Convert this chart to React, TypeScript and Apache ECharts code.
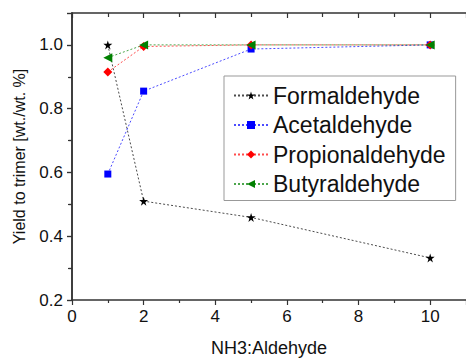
import React, { useEffect, useRef } from "react";
import * as echarts from "echarts";

const xValues = [1, 2, 5, 10];
const formaldehyde = [1.0, 0.51, 0.459, 0.332];
const acetaldehyde = [0.595, 0.855, 0.987, 1.0];
const propionaldehyde = [0.915, 0.995, 1.0, 1.0];
const butyraldehyde = [0.96, 1.0, 1.0, 1.0];
const seriesNames = ["Formaldehyde", "Acetaldehyde", "Propionaldehyde", "Butyraldehyde"];

const FONT = "Liberation Sans";
const STAR = "path://M50,0 L61,35 L98,35 L68,57 L79,91 L50,70 L21,91 L32,57 L2,35 L39,35 Z";

function pairs(ys: number[]) {
  return xValues.map((x, i) => [x, ys[i]]);
}

export default function App() {
  const ref = useRef<HTMLDivElement>(null);
  useEffect(() => {
    if (!ref.current) return;
    const chart = echarts.init(ref.current, undefined, { renderer: "svg" });
    const axisColor = "#333";
    const mk = (name: string, data: number[], color: string, symbol: string, size: number, rotate = 0) => ({
      name,
      type: "line",
      data: pairs(data),
      symbol,
      symbolSize: size,
      symbolRotate: rotate,
      showAllSymbol: true,
      itemStyle: { color },
      lineStyle: { color, width: 1, type: [2, 2], opacity: 0.7 },
      z: 3,
    });
    chart.setOption({
      animation: false,
      backgroundColor: "#fff",
      textStyle: { fontFamily: FONT },
      grid: { left: 72, top: 13, right: -2, bottom: 57 },
      legend: {
        orient: "vertical",
        left: 224,
        top: 76,
        padding: [8, 10, 5, 9],
        itemGap: 6.5,
        itemWidth: 34,
        itemHeight: 10,
        borderColor: "#999",
        borderWidth: 1,
        backgroundColor: "#fff",
        data: seriesNames,
        textStyle: { fontFamily: FONT, fontSize: 23, color: "#111", lineHeight: 23 },
      },
      xAxis: [
        {
          type: "value",
          min: 0,
          max: 11,
          interval: 2,
          position: "bottom",
          name: "NH3:Aldehyde",
          nameLocation: "middle",
          nameGap: 39,
          nameTextStyle: { fontFamily: FONT, fontSize: 18, color: "#111" },
          axisLine: { lineStyle: { color: axisColor, width: 1.5 } },
          axisTick: { inside: false, length: 5, lineStyle: { color: axisColor, width: 1.2 } },
          minorTick: { show: true, splitNumber: 2, length: 3, lineStyle: { color: axisColor, width: 1.2 } },
          axisLabel: { fontFamily: FONT, fontSize: 17, color: "#111", margin: 8, showMaxLabel: false },
          splitLine: { show: false },
        },
        {
          type: "value",
          min: 0,
          max: 11,
          interval: 2,
          position: "top",
          axisLine: { lineStyle: { color: axisColor, width: 1.5 } },
          axisTick: { inside: true, length: 5, lineStyle: { color: axisColor, width: 1.2 } },
          minorTick: { show: true, splitNumber: 2, length: 4, lineStyle: { color: axisColor, width: 1.2 } },
          axisLabel: { show: false },
          splitLine: { show: false },
        },
      ],
      yAxis: [
        {
          type: "value",
          min: 0.2,
          max: 1.1,
          interval: 0.2,
          position: "left",
          name: "Yield to trimer [wt./wt. %]",
          nameLocation: "middle",
          nameGap: 45,
          nameTextStyle: { fontFamily: FONT, fontSize: 16, color: "#111" },
          axisLine: { lineStyle: { color: axisColor, width: 1.5 } },
          axisTick: { inside: false, length: 5, lineStyle: { color: axisColor, width: 1.2 } },
          minorTick: { show: true, splitNumber: 2, length: 3, lineStyle: { color: axisColor, width: 1.2 } },
          axisLabel: {
            fontFamily: FONT,
            fontSize: 17,
            color: "#111",
            margin: 9,
            formatter: (v: number) => (v > 1.05 ? "" : v.toFixed(1)),
          },
          splitLine: { show: false },
        },
        {
          type: "value",
          min: 0.2,
          max: 1.1,
          interval: 0.2,
          position: "right",
          axisLine: { lineStyle: { color: axisColor, width: 1.5 } },
          axisTick: { inside: true, length: 5, lineStyle: { color: axisColor, width: 1.2 } },
          minorTick: { show: true, splitNumber: 2, length: 4, lineStyle: { color: axisColor, width: 1.2 } },
          axisLabel: { show: false },
          splitLine: { show: false },
        },
      ],
      series: [
        mk(seriesNames[0], formaldehyde, "#000000", STAR, 9),
        mk(seriesNames[1], acetaldehyde, "#0000ff", "rect", 7),
        mk(seriesNames[2], propionaldehyde, "#ff0000", "diamond", 9),
        mk(seriesNames[3], butyraldehyde, "#008000", "triangle", 9, 90),
      ],
    });
    return () => chart.dispose();
  }, []);
  return (
    <div
      ref={ref}
      style={{ position: "fixed", left: 0, top: 0, width: 466, height: 362 }}
    />
  );
}
